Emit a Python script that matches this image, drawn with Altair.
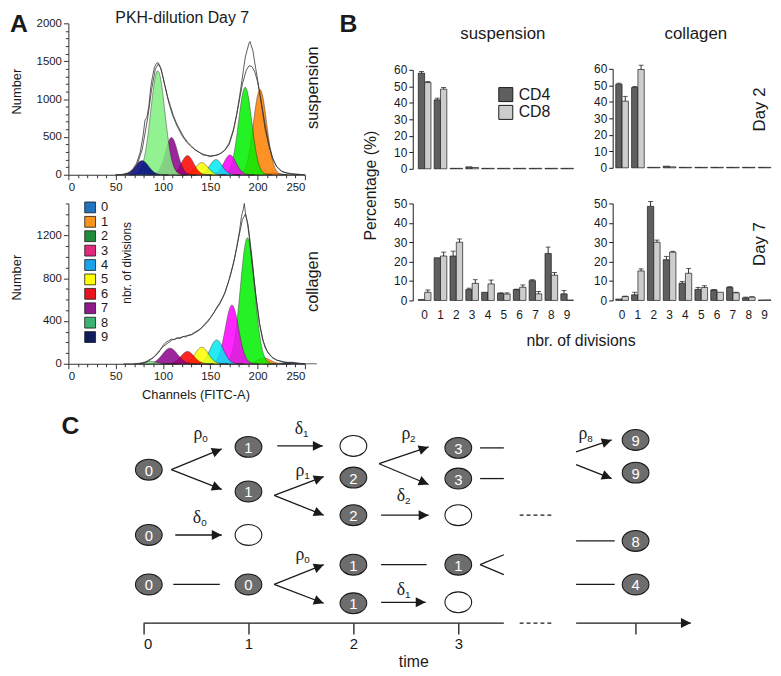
import math
import altair as alt
import numpy as np
import pandas as pd

OFF = 8
W, H = 773, 668
SANS = "Liberation Sans"
SERIF = "Liberation Serif"
INK = "#1a1a1a"
AX = "#333333"


def cx(v):
    return v - OFF


def cy(v):
    return v - OFF


# ---------------- Panel A data ----------------
gens = list(range(10))
peak_colors = ["#1c1c80", "#ff8000", "#00f000", "#ff00ff", "#00e8f0",
               "#ffff00", "#ff0000", "#8c008c", "#80f080", "#000080"]
legend_colors = ["#2372c0", "#f7941d", "#1e8c3c", "#e2287a", "#1aa3e8",
                 "#ffff00", "#e8141e", "#8e1a8e", "#3cb371", "#101c5c"]

sus_center = [216, 202.6, 186.9, 170.8, 156, 141, 125.9, 109, 94.5, 77.8]
sus_height = [25, 1124, 1155, 261, 200, 161, 253, 492, 1372, 187]
sus_sigma = [7, 7, 7, 6.5, 6.5, 6.5, 6.5, 6.5, 7.5, 7]

col_center = [234.6, 206.7, 189.3, 172.9, 156.8, 141, 125.9, 107.4, 86.5, 75]
col_height = [15, 53, 1178, 549, 223, 155, 115, 146, 22, 0]
col_sigma = [7, 7, 7.5, 7, 7, 7, 7, 8, 7, 7]

sus_data_ch = [50, 58, 63, 68, 72, 76, 79, 81, 83, 85, 87, 89, 91, 93, 95, 97, 99, 102, 105, 108,
               111, 114, 118, 122, 126, 130, 134, 138, 142, 146, 150, 154, 158, 162, 166, 170, 174, 178, 182, 185,
               187, 189, 191, 192, 193, 195, 197, 199, 202, 205, 208, 212, 216, 220, 225, 230, 240, 250]
sus_data_n = [0, 5, 25, 70, 150, 300, 520, 720, 760, 900, 1150, 1300, 1420, 1470, 1480, 1430, 1340, 1180, 1020, 900,
              780, 690, 590, 500, 430, 380, 330, 300, 262, 255, 238, 252, 262, 290, 330, 400, 560, 800, 1120, 1380,
              1550, 1650, 1740, 1760, 1720, 1640, 1480, 1330, 1100, 850, 600, 380, 210, 110, 50, 25, 8, 0]
sus_fit_ch = [55, 65, 72, 78, 84, 88, 92, 95, 98, 102, 106, 110, 115, 120, 125, 130, 135, 140, 145, 150,
              155, 160, 165, 170, 175, 180, 184, 188, 191, 194, 197, 200, 204, 208, 212, 216, 220, 226, 235, 250]
sus_fit_n = [0, 20, 110, 330, 760, 1130, 1400, 1460, 1400, 1180, 960, 790, 640, 520, 430, 370, 320, 285, 260, 250,
             255, 275, 320, 420, 620, 930, 1200, 1380, 1440, 1430, 1360, 1230, 960, 650, 400, 220, 110, 40, 10, 0]

col_data_ch = [70, 78, 84, 90, 95, 100, 103, 106, 109, 112, 115, 118, 121, 124, 127, 130, 133, 136, 139, 142,
               145, 148, 151, 154, 157, 160, 163, 166, 169, 172, 175, 178, 181, 183, 185, 186, 187, 189, 191, 193,
               196, 199, 202, 205, 208, 212, 216, 220, 226, 232, 240, 250]
col_data_n = [0, 5, 20, 60, 100, 170, 200, 215, 230, 225, 245, 235, 255, 250, 265, 270, 285, 300, 320, 345,
              370, 400, 440, 480, 530, 570, 620, 680, 760, 850, 960, 1090, 1250, 1380, 1450, 1500, 1420, 1330, 1200, 1030,
              800, 580, 380, 240, 150, 90, 55, 35, 20, 12, 5, 0]
col_fit_ch = [75, 80, 90, 100, 110, 120, 130, 140, 150, 160, 165, 170, 175, 180, 184, 187, 190, 194, 198, 202,
              206, 210, 215, 220, 230, 240, 250]
col_fit_n = [0, 10, 60, 160, 225, 250, 275, 330, 430, 560, 650, 790, 960, 1180, 1350, 1400, 1300, 1000, 650, 380,
             210, 120, 65, 35, 12, 4, 0]

# ---------------- Panel B data ----------------
cats = list(range(10))
groups = ["CD4", "CD8"]
bar_colors = ["#5f5f5f", "#cdcdcd"]

sus_d2_cd4 = [58.0, 41.8, 0.3, 1.2, 0.3, 0.3, 0.3, 0.3, 0.3, 0.3]
sus_d2_cd4_err = [1.0, 1.0, 0, 0, 0, 0, 0, 0, 0, 0]
sus_d2_cd8 = [52.3, 48.3, 0.3, 0.8, 0.3, 0.3, 0.3, 0.3, 0.3, 0.3]
sus_d2_cd8_err = [0.6, 1.0, 0, 0, 0, 0, 0, 0, 0, 0]

col_d2_cd4 = [50.7, 48.7, 0.3, 1.0, 0.3, 0.3, 0.3, 0.3, 0.3, 0.3]
col_d2_cd4_err = [0.6, 0.6, 0, 0, 0, 0, 0, 0, 0, 0]
col_d2_cd8 = [40.4, 59.6, 0.3, 0.6, 0.3, 0.3, 0.3, 0.3, 0.3, 0.3]
col_d2_cd8_err = [2.9, 2.6, 0, 0, 0, 0, 0, 0, 0, 0]

sus_d7_cd4 = [0.5, 22.0, 22.9, 5.6, 4.2, 3.7, 5.6, 10.2, 24.2, 3.4]
sus_d7_cd4_err = [0, 0, 2.5, 0.7, 0, 0.2, 0.2, 0.5, 3.3, 1.7]
sus_d7_cd8 = [4.2, 22.9, 30.0, 8.8, 8.5, 3.3, 6.8, 3.4, 13.0, 0.2]
sus_d7_cd8_err = [1.2, 2.0, 1.7, 1.9, 2.0, 0.6, 1.2, 1.2, 1.4, 0]

col_d7_cd4 = [0.7, 2.9, 48.5, 21.0, 8.9, 5.7, 5.4, 6.7, 1.3, 0.2]
col_d7_cd4_err = [0, 1.3, 2.5, 1.7, 0.9, 1.0, 0.2, 0.4, 0.4, 0]
col_d7_cd8 = [2.0, 15.2, 30.0, 24.9, 14.0, 6.7, 4.2, 3.9, 1.7, 0.3]
col_d7_cd8_err = [0.2, 1.1, 1.1, 0.4, 2.5, 0.9, 0, 0.3, 0.2, 0]

# ---------------- Panel C data (time units / lane units) ----------------
node_t = [0.05, 0.05, 0.05, 1, 1, 1, 1, 2, 2, 2, 2, 2, 3, 3, 3, 3, 3, 4.69, 4.69, 4.69, 4.69]
node_r = [3.1, 9.7, 14.7, 0.8, 5.3, 9.7, 14.7, 0.7, 3.9, 7.7, 12.7, 16.6, 0.9, 4.0, 7.7, 12.7, 16.5, 0.1, 3.4, 10.3, 14.7]
node_lab = ["0", "0", "0", "1", "1", "", "0", "", "2", "2", "1", "1", "3", "3", "", "1", "", "9", "9", "8", "4"]

arrow_t1 = [0.264, 0.264, 1.274, 1.245, 1.245, 0.302, 1.245, 1.245, 2.245, 2.245, 2.264, 2.264, 4.123, 4.123, 4.123]
arrow_r1 = [3.1, 3.1, 0.7, 5.7, 5.7, 9.7, 14.7, 14.7, 2.5, 2.5, 7.7, 16.5, 1.3, 2.6, 18.6]
arrow_t2 = [0.745, 0.745, 1.708, 1.717, 1.717, 0.745, 1.717, 1.717, 2.717, 2.717, 2.717, 2.689, 4.462, 4.462, 5.217]
arrow_r2 = [1.0, 5.1, 0.7, 3.8, 7.7, 9.7, 12.7, 16.6, 0.8, 4.6, 7.7, 16.5, 0.1, 4.0, 18.6]

line_t1 = [0.283, 2.264, 3.208, 3.208, 3.208, 3.208, 4.123, 4.123, 0.0]
line_r1 = [14.7, 12.7, 0.9, 4.0, 12.7, 12.7, 10.3, 14.7, 18.6]
line_t2 = [0.726, 2.698, 3.434, 3.434, 3.434, 3.434, 4.491, 4.491, 3.434]
line_r2 = [14.7, 12.7, 0.9, 4.0, 11.7, 13.7, 10.3, 14.7, 18.6]

dash_t1 = [3.585, 3.585]
dash_r1 = [7.7, 18.6]
dash_t2 = [3.896, 3.896]
dash_r2 = [7.7, 18.6]

rate_sym = ["ρ", "δ", "ρ", "δ", "ρ", "ρ", "δ", "δ", "ρ"]
rate_sub = ["0", "1", "1", "0", "0", "2", "2", "1", "8"]
rate_t = [0.519, 1.481, 1.491, 0.509, 1.491, 2.5, 2.453, 2.453, 4.189]
rate_r = [-0.5, -1.0, 3.2, 8.0, 11.7, -0.5, 5.8, 15.3, -0.5]
time_ticks = [0, 1, 2, 3, 4.69]

PX_PER_T = 106
PX_PER_R = 10

layers = []


def label(text, x, y, size, angle=0, bold=False, font=SANS):
    return alt.Chart(alt.Data(values=[{"t": text}])).mark_text(
        fontSize=size, angle=angle, fontWeight="bold" if bold else "normal",
        font=font, align="center", baseline="middle", color=INK
    ).encode(x=alt.value(cx(x)), y=alt.value(cy(y)), text="t:N")


# ---------------- Panel A ----------------
def a_panel(centers, heights, sigmas, dch, dn, fch, fn, ymax, ytop, ybot, ymajor):
    xs = alt.Scale(domain=[0, 250], range=[cx(69), cx(308)], nice=False, zero=False)
    ys = alt.Scale(domain=[0, ymax], range=[cy(ybot), cy(ytop)], nice=False)
    xaxis = alt.Axis(orient="bottom", offset=cy(ybot) - H, values=list(range(0, 251, 10)),
                     labelExpr="datum.value % 50 === 0 ? datum.label : ''",
                     tickSize={"condition": {"test": "datum.value % 50 === 0", "value": 5}, "value": 3},
                     format="d", labelFontSize=11.5, labelFont=SANS, labelColor=INK, domainColor=AX,
                     tickColor=AX, grid=False, title=None, labelOverlap=False, labelPadding=2)
    yaxis = alt.Axis(orient="left", offset=-cx(69), values=list(range(0, ymax + 1, 100)),
                     labelExpr=f"datum.value % {ymajor} === 0 ? datum.label : ''",
                     tickSize={"condition": {"test": f"datum.value % {ymajor} === 0", "value": 5}, "value": 3},
                     format="d", labelFontSize=11.5, labelFont=SANS, labelColor=INK, domainColor=AX,
                     tickColor=AX, grid=False, title=None, labelOverlap=False, labelPadding=2)
    sub = []
    for g in gens:
        if heights[g] <= 0:
            continue
        c, h, s = centers[g], heights[g], sigmas[g]
        ch = np.arange(c - 4 * s, c + 4 * s + 0.01, 0.5)
        n = h * np.exp(-((ch - c) ** 2) / (2 * s * s))
        df = pd.DataFrame({"ch": ch, "n": n})
        sub.append(alt.Chart(df).mark_area(fill=peak_colors[g], opacity=0.85, stroke=INK, strokeWidth=0.5).encode(
            x=alt.X("ch:Q", scale=xs, axis=None),
            y=alt.Y("n:Q", scale=ys, axis=None, stack=None)))
    for i, (xs_, ns_) in enumerate(((fch, fn), (dch, dn))):
        last = i == 1
        sub.append(alt.Chart(pd.DataFrame({"ch": xs_, "n": ns_})).mark_line(
            stroke="#333333", strokeWidth=0.8).encode(
            x=alt.X("ch:Q", scale=xs, axis=xaxis if last else None),
            y=alt.Y("n:Q", scale=ys, axis=yaxis if last else None)))
    return sub


layers += a_panel(sus_center, sus_height, sus_sigma, sus_data_ch, sus_data_n, sus_fit_ch, sus_fit_n,
                  2000, 20, 173, 500)
layers += a_panel(col_center, col_height, col_sigma, col_data_ch, col_data_n, col_fit_ch, col_fit_n,
                  1500, 202, 364, 400)

# legend of panel A
leg_df = pd.DataFrame({"div": gens, "lab": [str(g) for g in gens], "col": legend_colors})
leg_y = alt.Scale(range=[cy(206), cy(337)], padding=0)
layers += [
    alt.Chart(leg_df).mark_point(shape="square", filled=True, size=120, stroke=INK, strokeWidth=0.8,
                                 opacity=1).encode(
        x=alt.value(cx(91)), y=alt.Y("div:O", scale=leg_y, axis=None), fill=alt.Fill("col:N", scale=None)),
    alt.Chart(leg_df).mark_text(align="left", baseline="middle", fontSize=13, font=SANS, color=INK).encode(
        x=alt.value(cx(102)), y=alt.Y("div:O", scale=leg_y, axis=None), text="lab:N"),
]


# ---------------- Panel B ----------------
def b_panel(cd4, cd4e, cd8, cd8e, xr, axis_x, ymax, ytop, ybot, show_x):
    rows = []
    for i, c in enumerate(cats):
        rows.append({"cat": c, "grp": "CD4", "val": cd4[i], "err": cd4e[i], "top": cd4[i] + cd4e[i]})
        rows.append({"cat": c, "grp": "CD8", "val": cd8[i], "err": cd8e[i], "top": cd8[i] + cd8e[i]})
    df = pd.DataFrame(rows)
    xs = alt.Scale(domain=cats, range=[cx(xr[0]), cx(xr[1])], paddingInner=0.2, paddingOuter=0.1)
    ys = alt.Scale(domain=[0, ymax], range=[cy(ybot), cy(ytop)], nice=False)
    xo = alt.XOffset("grp:N", scale=alt.Scale(domain=groups))
    yaxis = alt.Axis(orient="left", offset=-cx(axis_x), values=list(range(0, ymax + 1, 10)), tickSize=4,
                     labelFontSize=12, labelFont=SANS, labelColor=INK, domainColor=INK, tickColor=INK,
                     grid=False, title=None, labelPadding=2)
    xaxis = alt.Axis(orient="bottom", offset=cy(ybot) - H, domain=False, ticks=False, labelPadding=9,
                     labelFontSize=12, labelFont=SANS, labelColor=INK, labelAngle=0, title=None,
                     grid=False) if show_x else None
    bars = alt.Chart(df).mark_bar(stroke=INK, strokeWidth=0.7).encode(
        x=alt.X("cat:O", scale=xs, axis=xaxis), xOffset=xo,
        y=alt.Y("val:Q", scale=ys, axis=yaxis),
        fill=alt.Fill("grp:N", scale=alt.Scale(domain=groups, range=bar_colors), legend=None))
    errs = alt.Chart(df).transform_filter("datum.err > 0").mark_rule(color=INK, strokeWidth=0.9).encode(
        x=alt.X("cat:O", scale=xs, axis=None), xOffset=xo,
        y=alt.Y("val:Q", scale=ys, axis=None), y2="top:Q")
    caps = alt.Chart(df).transform_filter("datum.err > 0").mark_tick(color=INK, thickness=1, size=5).encode(
        x=alt.X("cat:O", scale=xs, axis=None), xOffset=xo,
        y=alt.Y("top:Q", scale=ys, axis=None))
    return [bars, errs, caps]


layers += b_panel(sus_d2_cd4, sus_d2_cd4_err, sus_d2_cd8, sus_d2_cd8_err, (421, 581), 417, 60, 67, 167, False)
layers += b_panel(col_d2_cd4, col_d2_cd4_err, col_d2_cd8, col_d2_cd8_err, (620.5, 780.5), 619, 60, 66, 166, False)
layers += b_panel(sus_d7_cd4, sus_d7_cd4_err, sus_d7_cd8, sus_d7_cd8_err, (421, 581), 417, 50, 202, 300, True)
layers += b_panel(col_d7_cd4, col_d7_cd4_err, col_d7_cd8, col_d7_cd8_err, (620.5, 780.5), 619, 50, 202, 300, True)

# legend of panel B
bleg = pd.DataFrame({"grp": groups})
bleg_y = alt.Scale(domain=groups, range=[cy(92), cy(110)], padding=0)
layers += [
    alt.Chart(bleg).mark_point(shape="square", filled=True, size=200, stroke=INK, strokeWidth=1,
                               opacity=1).encode(
        x=alt.value(cx(511)), y=alt.Y("grp:N", scale=bleg_y, axis=None),
        fill=alt.Fill("grp:N", scale=alt.Scale(domain=groups, range=bar_colors), legend=None)),
    alt.Chart(bleg).mark_text(align="left", baseline="middle", fontSize=16, font=SANS, color=INK).encode(
        x=alt.value(cx(524)), y=alt.Y("grp:N", scale=bleg_y, axis=None), text="grp:N"),
]

# ---------------- Panel C ----------------
xc = alt.Scale(domain=[0, 5], range=[cx(145), cx(145 + 5 * PX_PER_T)], nice=False, zero=False)
yc = alt.Scale(domain=[0, 20], range=[cy(440), cy(440 + 20 * PX_PER_R)], nice=False, zero=False)

nodes = pd.DataFrame({"t": node_t, "r": node_r, "lab": node_lab})
arrows = pd.DataFrame({"t1": arrow_t1, "r1": arrow_r1, "t2": arrow_t2, "r2": arrow_r2})
arrows["ang"] = [
    math.degrees(math.atan2((b2 - b1) * PX_PER_R, (a2 - a1) * PX_PER_T)) % 360
    for a1, b1, a2, b2 in zip(arrow_t1, arrow_r1, arrow_t2, arrow_r2)
]
plain = pd.DataFrame({"t1": line_t1, "r1": line_r1, "t2": line_t2, "r2": line_r2})
dashed = pd.DataFrame({"t1": dash_t1, "r1": dash_r1, "t2": dash_t2, "r2": dash_r2})
rates = pd.DataFrame({"sym": rate_sym, "sub": rate_sub, "t": rate_t, "r": rate_r})
ticks_df = pd.DataFrame({"t": time_ticks})

time_axis = alt.Axis(orient="bottom", offset=cy(626) - H, values=time_ticks, format="d",
                     labelExpr="datum.value > 3.5 ? '' : datum.label", domain=False, tickSize=11,
                     tickColor=INK, tickWidth=1.3, labelFontSize=15, labelFont=SANS, labelColor=INK,
                     labelPadding=3, grid=False, title=None)

ELLIPSE = "M-1,0A1,0.78,0,1,0,1,0A1,0.78,0,1,0,-1,0Z"
ARROW = "M0,0L-1,-0.5L-1,0.5Z"

layers += [
    alt.Chart(ticks_df).mark_point(opacity=0).encode(
        x=alt.X("t:Q", scale=xc, axis=time_axis), y=alt.value(cy(626))),
    alt.Chart(plain).mark_rule(color=INK, strokeWidth=1.3).encode(
        x=alt.X("t1:Q", scale=xc, axis=None), y=alt.Y("r1:Q", scale=yc, axis=None), x2="t2:Q", y2="r2:Q"),
    alt.Chart(dashed).mark_rule(color=INK, strokeWidth=1.3, strokeDash=[4, 3]).encode(
        x=alt.X("t1:Q", scale=xc, axis=None), y=alt.Y("r1:Q", scale=yc, axis=None), x2="t2:Q", y2="r2:Q"),
    alt.Chart(arrows).mark_rule(color=INK, strokeWidth=1.3).encode(
        x=alt.X("t1:Q", scale=xc, axis=None), y=alt.Y("r1:Q", scale=yc, axis=None), x2="t2:Q", y2="r2:Q"),
    alt.Chart(arrows).mark_point(shape=ARROW, size=400, filled=True, color=INK, opacity=1).encode(
        x=alt.X("t2:Q", scale=xc, axis=None), y=alt.Y("r2:Q", scale=yc, axis=None),
        angle=alt.Angle("ang:Q", scale=None)),
    alt.Chart(nodes).mark_point(shape=ELLIPSE, size=729, filled=True, stroke=INK, strokeWidth=1.1,
                                opacity=1).encode(
        x=alt.X("t:Q", scale=xc, axis=None), y=alt.Y("r:Q", scale=yc, axis=None),
        fill=alt.condition("datum.lab === ''", alt.value("white"), alt.value("#6d6d6d"))),
    alt.Chart(nodes).mark_text(color="white", fontSize=15, font=SANS, baseline="middle", dy=1).encode(
        x=alt.X("t:Q", scale=xc, axis=None), y=alt.Y("r:Q", scale=yc, axis=None), text="lab:N"),
    alt.Chart(rates).mark_text(color=INK, fontSize=18, font=SERIF, baseline="middle").encode(
        x=alt.X("t:Q", scale=xc, axis=None), y=alt.Y("r:Q", scale=yc, axis=None), text="sym:N"),
    alt.Chart(rates).mark_text(color=INK, fontSize=10, font=SANS, baseline="middle", dx=7, dy=5).encode(
        x=alt.X("t:Q", scale=xc, axis=None), y=alt.Y("r:Q", scale=yc, axis=None), text="sub:N"),
]

# ---------------- Text labels ----------------
layers += [
    label("A", 19, 21, 25, bold=True),
    label("PKH-dilution Day 7", 184, 15, 16),
    label("Number", 17, 89, 13, angle=270),
    label("Number", 17, 277, 13, angle=270),
    label("suspension", 316, 85, 16.5, angle=270),
    label("collagen", 316, 281, 16.5, angle=270),
    label("Channels (FITC-A)", 198, 396, 13),
    label("nbr. of divisions", 128, 262, 12, angle=270),
    label("B", 352, 21, 25, bold=True),
    label("suspension", 508, 31, 17),
    label("collagen", 703, 31, 17),
    label("Day 2", 768, 107, 17, angle=270),
    label("Day 7", 768, 243, 17, angle=270),
    label("Percentage (%)", 375, 184, 16, angle=270),
    label("nbr. of divisions", 587, 341, 16),
    label("C", 71, 427, 25, bold=True),
    label("time", 418, 665, 16),
]

chart = alt.layer(*layers).resolve_scale(
    x="independent", y="independent", xOffset="independent"
).resolve_axis(x="independent", y="independent").properties(
    width=W, height=H, autosize=alt.AutoSizeParams(type="none"), padding=0
).configure(font=SANS, view=alt.ViewConfig(stroke=None))

chart.save("out.html", embed_options={"renderer": "svg", "actions": False})
